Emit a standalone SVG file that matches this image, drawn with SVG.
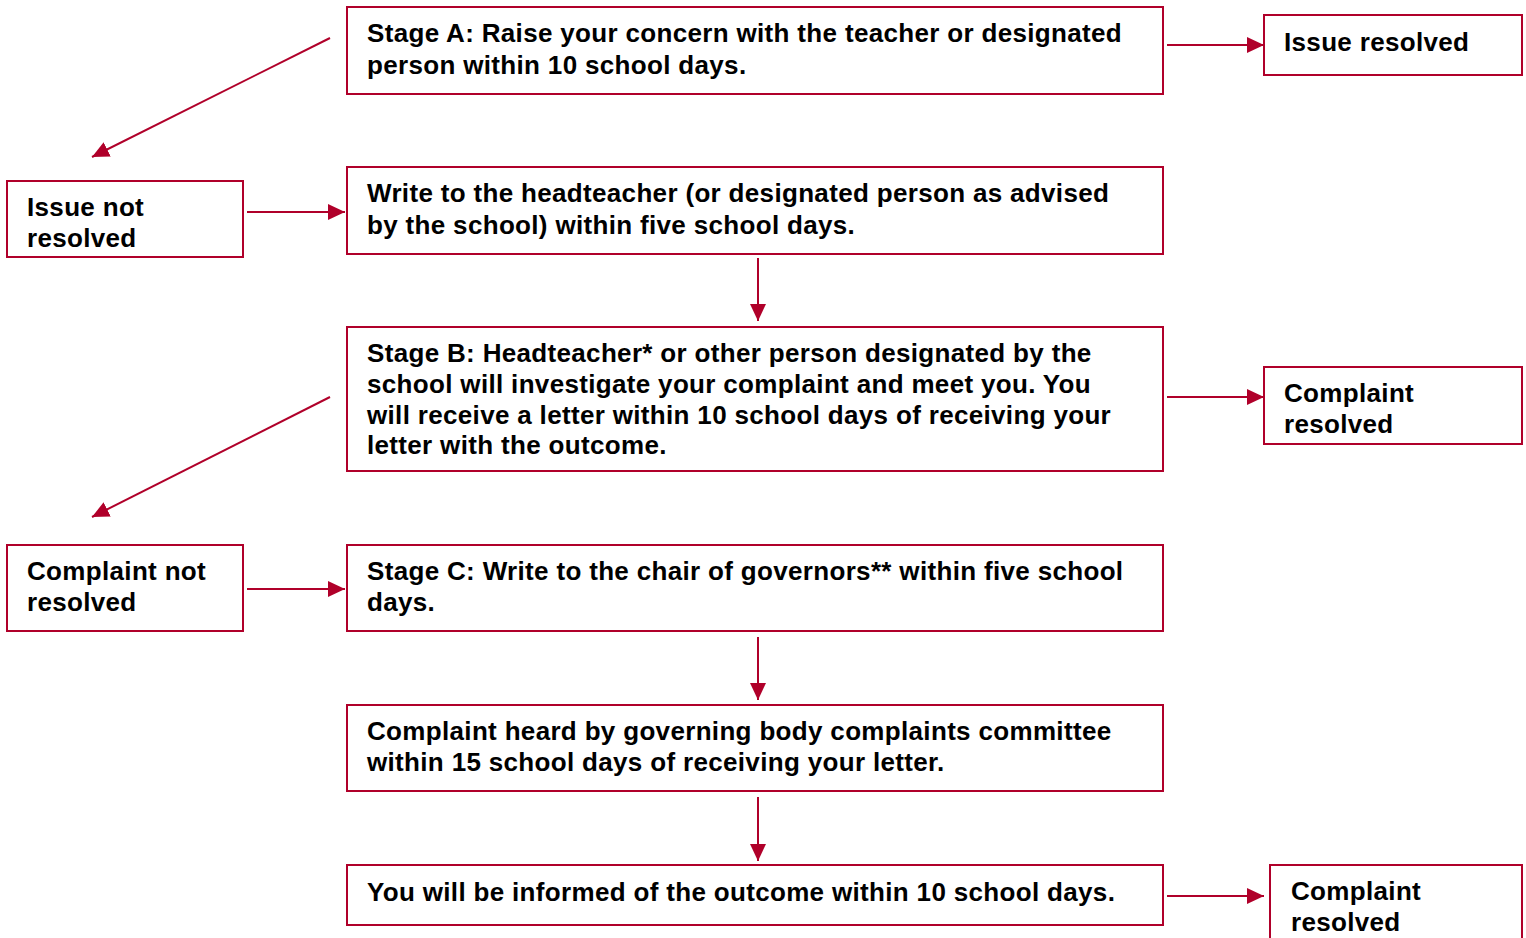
<svg xmlns="http://www.w3.org/2000/svg" width="1526" height="938" viewBox="0 0 1526 938">
<style>
.box{fill:#fff;stroke:#B0002A;stroke-width:2}
.t{font-family:"Liberation Sans",Arial,sans-serif;font-weight:bold;font-size:26px;letter-spacing:0.33px;fill:#000}
.c{stroke:#B0002A;stroke-width:2;fill:none;marker-end:url(#ah)}
</style>
<defs>
<marker id="ah" markerUnits="userSpaceOnUse" markerWidth="18" markerHeight="16" refX="17" refY="8" orient="auto">
<path d="M0,0 L17,8 L0,16 Z" fill="#B0002A"/>
</marker>
</defs>
<rect width="1526" height="938" fill="#fff"/>
<g id="stageA"><rect class="box" x="347" y="7" width="816" height="87"/>
<text class="t" x="367" y="42">Stage A: Raise your concern with the teacher or designated</text>
<text class="t" x="367" y="74">person within 10 school days.</text></g>
<g id="issueResolved"><rect class="box" x="1264" y="15" width="258" height="60"/>
<text class="t" x="1284" y="51">Issue resolved</text></g>
<g id="issueNotResolved"><rect class="box" x="7" y="181" width="236" height="76"/>
<text class="t" x="27" y="216">Issue not</text>
<text class="t" x="27" y="247">resolved</text></g>
<g id="writeHead"><rect class="box" x="347" y="167" width="816" height="87"/>
<text class="t" x="367" y="202">Write to the headteacher (or designated person as advised</text>
<text class="t" x="367" y="234">by the school) within five school days.</text></g>
<g id="stageB"><rect class="box" x="347" y="327" width="816" height="144"/>
<text class="t" x="367" y="362">Stage B: Headteacher* or other person designated by the</text>
<text class="t" x="367" y="393">school will investigate your complaint and meet you. You</text>
<text class="t" x="367" y="424">will receive a letter within 10 school days of receiving your</text>
<text class="t" x="367" y="454">letter with the outcome.</text></g>
<g id="complaintResolved1"><rect class="box" x="1264" y="367" width="258" height="77"/>
<text class="t" x="1284" y="402">Complaint</text>
<text class="t" x="1284" y="433">resolved</text></g>
<g id="complaintNotResolved"><rect class="box" x="7" y="545" width="236" height="86"/>
<text class="t" x="27" y="580">Complaint not</text>
<text class="t" x="27" y="611">resolved</text></g>
<g id="stageC"><rect class="box" x="347" y="545" width="816" height="86"/>
<text class="t" x="367" y="580">Stage C: Write to the chair of governors** within five school</text>
<text class="t" x="367" y="611">days.</text></g>
<g id="heard"><rect class="box" x="347" y="705" width="816" height="86"/>
<text class="t" x="367" y="740">Complaint heard by governing body complaints committee</text>
<text class="t" x="367" y="771">within 15 school days of receiving your letter.</text></g>
<g id="informed"><rect class="box" x="347" y="865" width="816" height="60"/>
<text class="t" x="367" y="901">You will be informed of the outcome within 10 school days.</text></g>
<g id="complaintResolved2"><rect class="box" x="1270" y="865" width="252" height="90"/>
<text class="t" x="1291" y="900">Complaint</text>
<text class="t" x="1291" y="931">resolved</text></g>
<g id="connectors">
<line class="c" x1="1167" y1="45" x2="1264" y2="45"/>
<line class="c" x1="330" y1="38" x2="92" y2="157"/>
<line class="c" x1="247" y1="212" x2="345" y2="212"/>
<line class="c" x1="758" y1="258" x2="758" y2="321"/>
<line class="c" x1="1167" y1="397" x2="1264" y2="397"/>
<line class="c" x1="330" y1="397" x2="92" y2="517"/>
<line class="c" x1="247" y1="589" x2="345" y2="589"/>
<line class="c" x1="758" y1="637" x2="758" y2="700"/>
<line class="c" x1="758" y1="797" x2="758" y2="861"/>
<line class="c" x1="1167" y1="896" x2="1264" y2="896"/>
</g>
</svg>
